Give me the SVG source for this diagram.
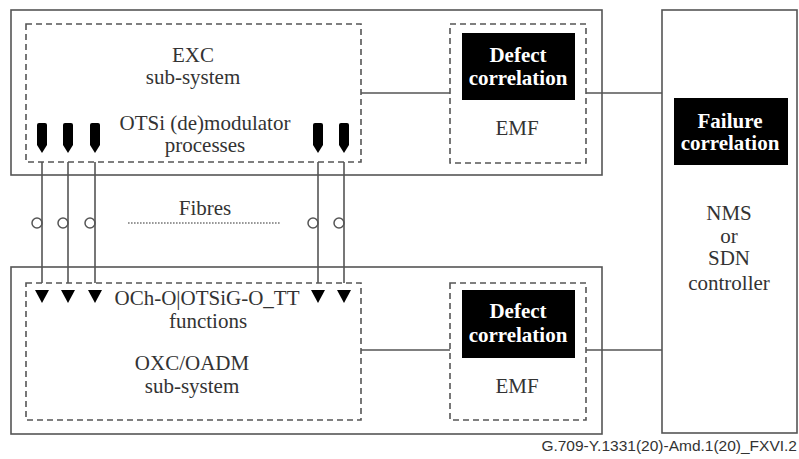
<svg xmlns="http://www.w3.org/2000/svg" width="799" height="459" viewBox="0 0 799 459">
<style>
.box{fill:none;stroke:#555;stroke-width:1.6}
.dash{fill:none;stroke:#555;stroke-width:1.6;stroke-dasharray:6 4}
.blk{fill:#000}
.t{font-family:"Liberation Serif","Times New Roman",serif;font-size:21px;fill:#333;text-anchor:middle}
.w{font-family:"Liberation Serif","Times New Roman",serif;font-size:21px;font-weight:bold;fill:#fff;text-anchor:middle}
.ln{stroke:#555;stroke-width:1.6;fill:none}
.ring{fill:#fff;stroke:#555;stroke-width:1.5}
.drop{fill:#000}
</style>
<rect width="799" height="459" fill="#fff"/>

<g id="exc-system">
<rect class="box" x="11" y="10" width="591" height="165"/>
<g id="exc-subsystem">
<rect class="dash" x="26" y="24" width="335" height="138"/>
<text class="t" x="193" y="62">EXC</text>
<text class="t" x="193" y="84">sub-system</text>
<text class="t" x="205" y="130">OTSi (de)modulator</text>
<text class="t" x="205" y="152">processes</text>
<path class="drop" d="M37,125 q0,-2 2,-2 h6 q2,0 2,2 v20 l-5,8 l-5,-8 z"/>
<path class="drop" d="M63,125 q0,-2 2,-2 h6 q2,0 2,2 v20 l-5,8 l-5,-8 z"/>
<path class="drop" d="M90,125 q0,-2 2,-2 h6 q2,0 2,2 v20 l-5,8 l-5,-8 z"/>
<path class="drop" d="M313,125 q0,-2 2,-2 h6 q2,0 2,2 v20 l-5,8 l-5,-8 z"/>
<path class="drop" d="M339,125 q0,-2 2,-2 h6 q2,0 2,2 v20 l-5,8 l-5,-8 z"/>
</g>
<g id="emf-top">
<rect class="dash" x="450" y="24" width="136" height="139"/>
<rect class="blk" x="462" y="33" width="113" height="67"/>
<text class="w" x="518" y="62">Defect</text>
<text class="w" x="518" y="85">correlation</text>
<text class="t" x="517" y="135">EMF</text>
</g>
</g>

<g id="oxc-system">
<rect class="box" x="11" y="267" width="591" height="167"/>
<g id="oxc-subsystem">
<rect class="dash" x="26" y="283" width="335" height="137"/>
<path class="drop" d="M35,290 h14 l-7,13 z"/>
<path class="drop" d="M61,290 h14 l-7,13 z"/>
<path class="drop" d="M88,290 h14 l-7,13 z"/>
<path class="drop" d="M311,290 h14 l-7,13 z"/>
<path class="drop" d="M337,290 h14 l-7,13 z"/>
<text class="t" x="207" y="305">OCh-O|OTSiG-O_TT</text>
<text class="t" x="208" y="328">functions</text>
<text class="t" x="192" y="370">OXC/OADM</text>
<text class="t" x="192" y="393">sub-system</text>
</g>
<g id="emf-bottom">
<rect class="dash" x="450" y="283" width="136" height="137"/>
<rect class="blk" x="462" y="290" width="113" height="68"/>
<text class="w" x="518" y="318">Defect</text>
<text class="w" x="518" y="342">correlation</text>
<text class="t" x="517" y="393">EMF</text>
</g>
</g>

<g id="nms">
<rect class="box" x="662" y="10" width="135" height="423"/>
<rect class="blk" x="674" y="98" width="114" height="67"/>
<text class="w" x="730" y="128">Failure</text>
<text class="w" x="730" y="150">correlation</text>
<text class="t" x="729" y="220">NMS</text>
<text class="t" x="729" y="243">or</text>
<text class="t" x="729" y="265">SDN</text>
<text class="t" x="729" y="290">controller</text>
</g>

<g id="connectors">
<line class="ln" x1="361" y1="93" x2="450" y2="93"/>
<line class="ln" x1="586" y1="93" x2="662" y2="93"/>
<line class="ln" x1="361" y1="350" x2="450" y2="350"/>
<line class="ln" x1="586" y1="350" x2="662" y2="350"/>
<circle class="ring" cx="37" cy="223" r="5"/>
<circle class="ring" cx="63" cy="223" r="5"/>
<circle class="ring" cx="90" cy="223" r="5"/>
<circle class="ring" cx="313" cy="223" r="5"/>
<circle class="ring" cx="339" cy="223" r="5"/>
<line class="ln" x1="42" y1="162" x2="42" y2="283"/>
<line class="ln" x1="68" y1="162" x2="68" y2="283"/>
<line class="ln" x1="95" y1="162" x2="95" y2="283"/>
<line class="ln" x1="318" y1="162" x2="318" y2="283"/>
<line class="ln" x1="344" y1="162" x2="344" y2="283"/>
</g>

<g id="fibres">
<text class="t" x="205" y="215">Fibres</text>
<line x1="128" y1="223" x2="280" y2="223" stroke="#777" stroke-width="1.6" stroke-dasharray="1.6 1.4"/>
</g>

<text x="797" y="451" font-family="'Liberation Sans',Arial,sans-serif" font-size="15.5" fill="#333" text-anchor="end">G.709-Y.1331(20)-Amd.1(20)_FXVI.2</text>
</svg>
